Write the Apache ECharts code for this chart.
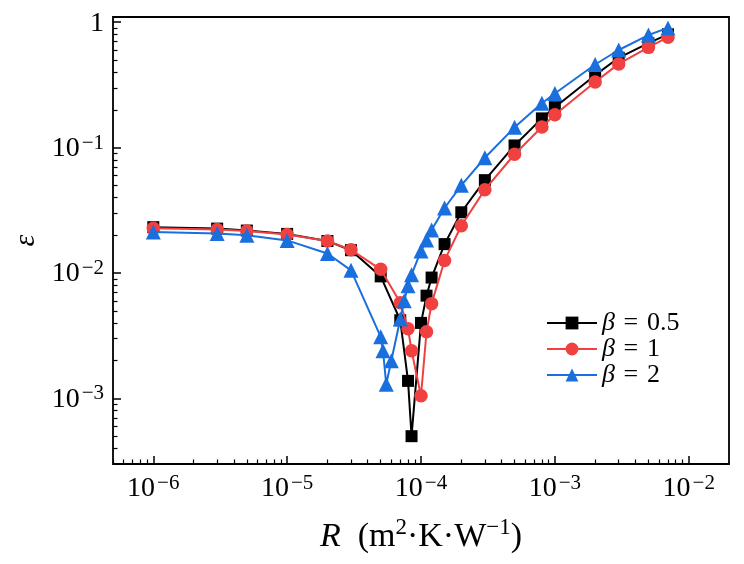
<!DOCTYPE html>
<html>
<head>
<meta charset="utf-8">
<script src="https://cdn.jsdelivr.net/npm/echarts@6/dist/echarts.min.js"></script>
<style>html,body{margin:0;padding:0;background:#fff}#c{width:744px;height:564px}</style>
</head>
<body>
<div id="c"></div>
<script>
// ---- data ----
const seriesNames = ['β = 0.5', 'β = 1', 'β = 2'];
const xBeta05 = [1e-6,3e-6,5e-6,1e-5,2e-5,3e-5,5e-5,7e-5,8e-5,8.5e-5,1e-4,1.1e-4,1.2e-4,1.5e-4,2e-4,3e-4,5e-4,8e-4,1e-3,2e-3,3e-3,5e-3,7e-3];
const yBeta05 = [0.0232,0.0226,0.0218,0.0205,0.0180,0.0152,0.0094,0.0042,0.00138,0.0005,0.0040,0.0066,0.0092,0.0170,0.0305,0.055,0.104,0.171,0.21,0.378,0.52,0.68,0.80];
const xBeta1 = [1e-6,3e-6,5e-6,1e-5,2e-5,3e-5,5e-5,7e-5,8e-5,8.5e-5,1e-4,1.1e-4,1.2e-4,1.5e-4,2e-4,3e-4,5e-4,8e-4,1e-3,2e-3,3e-3,5e-3,7e-3];
const yBeta1 = [0.0227,0.0222,0.0216,0.0203,0.0180,0.0153,0.0107,0.0058,0.0036,0.0024,0.00105,0.0034,0.0057,0.0126,0.0238,0.0462,0.0885,0.146,0.183,0.333,0.465,0.63,0.76];
const xBeta2 = [1e-6,3e-6,5e-6,1e-5,2e-5,3e-5,5e-5,5.2e-5,5.5e-5,6e-5,7e-5,7.5e-5,8e-5,8.5e-5,1e-4,1.1e-4,1.2e-4,1.5e-4,2e-4,3e-4,5e-4,8e-4,1e-3,2e-3,3e-3,5e-3,7e-3];
const yBeta2 = [0.0212,0.0207,0.0200,0.0182,0.0143,0.0105,0.0031,0.0024,0.0013,0.0020,0.0043,0.0060,0.0079,0.0097,0.0150,0.0183,0.0220,0.0330,0.050,0.083,0.145,0.226,0.27,0.46,0.60,0.79,0.90];
const xMajorTicks = [1e-6,1e-5,1e-4,1e-3,1e-2];
const yMajorTicks = [1e-3,1e-2,1e-1,1];
const xMinorTicks = [5e-7,6e-7,7e-7,8e-7,9e-7,2e-6,3e-6,4e-6,5e-6,6e-6,7e-6,8e-6,9e-6,2e-5,3e-5,4e-5,5e-5,6e-5,7e-5,8e-5,9e-5,2e-4,3e-4,4e-4,5e-4,6e-4,7e-4,8e-4,9e-4,2e-3,3e-3,4e-3,5e-3,6e-3,7e-3,8e-3,9e-3];
const yMinorTicks = [4e-4,5e-4,6e-4,7e-4,8e-4,9e-4,2e-3,3e-3,4e-3,5e-3,6e-3,7e-3,8e-3,9e-3,2e-2,3e-2,4e-2,5e-2,6e-2,7e-2,8e-2,9e-2,0.2,0.3,0.4,0.5,0.6,0.7,0.8,0.9];
const xRange = [5e-7, 2e-2];
const yRange = [3e-4, 1.1];

const FONT = '"Liberation Serif", "DejaVu Serif", serif';
const colors = ['#000000', '#f14040', '#1a6fdf'];
const symbols = ['rect', 'circle', 'triangle'];
const symSizes = [12, 13.5, 15];

function pair(xs, ys) { return xs.map((x, i) => [x, ys[i]]); }
const xsAll = [xBeta05, xBeta1, xBeta2];
const ysAll = [yBeta05, yBeta1, yBeta2];
const lg = v => Math.log10(v);

function powLabel(v) {
  const e = Math.round(Math.log10(v));
  if (e === 0) return '{b|1}';
  return '{b|10}{s|' + (e < 0 ? '−' + (-e) : e) + '}';
}
const labelRich = {
  b: { fontFamily: FONT, fontSize: 28, color: '#000', verticalAlign: 'bottom', lineHeight: 30 },
  s: { fontFamily: FONT, fontSize: 21, color: '#000', verticalAlign: 'top', lineHeight: 30, padding: [0, 0, 0, 2] }
};

const gridBox = { left: 113, right: 15, top: 17, bottom: 100 };

// main log axes: carry the series and the labels
function mainAxis(isX, range, ticks) {
  return {
    type: 'log', logBase: 10, min: range[0], max: range[1], gridIndex: 0,
    position: isX ? 'bottom' : 'left',
    axisLine: { show: false, onZero: false },
    splitLine: { show: false },
    axisTick: { show: false },
    axisLabel: { show: true, customValues: ticks, formatter: powLabel, rich: labelRich, margin: 9, color: '#000' }
  };
}
// helper axes (log10 space, in overlaid grids) that only draw tick marks
function tickAxis(isX, range, ticks, len, w, gi) {
  return {
    type: 'value', min: lg(range[0]), max: lg(range[1]), gridIndex: gi,
    position: isX ? 'bottom' : 'left',
    axisLine: { show: false, onZero: false },
    splitLine: { show: false },
    axisTick: { show: true, inside: true, length: len, lineStyle: { color: '#000', width: w }, customValues: ticks.map(lg) },
    axisLabel: { show: false }
  };
}

const xMain = mainAxis(true, xRange, xMajorTicks);
xMain.name = '{i|R}{n|  (m}{s|2}{n|·K·W}{s|−1}{n|)}';
xMain.nameLocation = 'middle';
xMain.nameGap = 52;
xMain.nameTextStyle = {
  rich: {
    i: { fontFamily: FONT, fontSize: 34, fontStyle: 'italic', color: '#000', verticalAlign: 'bottom', lineHeight: 38 },
    n: { fontFamily: FONT, fontSize: 34, color: '#000', verticalAlign: 'bottom', lineHeight: 38 },
    s: { fontFamily: FONT, fontSize: 23, color: '#000', verticalAlign: 'top', lineHeight: 38 }
  }
};
const yMain = mainAxis(false, yRange, yMajorTicks);
yMain.name = 'ε';
yMain.nameLocation = 'middle';
yMain.nameGap = 57;
yMain.nameTextStyle = { fontFamily: FONT, fontSize: 30, fontStyle: 'italic', color: '#000' };

const series = seriesNames.map((name, k) => ({
  name: name,
  type: 'line',
  xAxisIndex: 0, yAxisIndex: 0,
  data: pair(xsAll[k], ysAll[k]),
  symbol: symbols[k],
  symbolSize: symSizes[k],
  showSymbol: true,
  lineStyle: { color: colors[k], width: 2 },
  itemStyle: { color: colors[k], borderWidth: 0 },
  emphasis: { disabled: true },
  z: 2 + k,
  animation: false
}));

const chart = echarts.init(document.getElementById('c'), null, { renderer: 'canvas' });
chart.setOption({
  animation: false,
  backgroundColor: '#fff',
  grid: [
    Object.assign({ show: true, borderColor: '#000', borderWidth: 1.8, backgroundColor: 'transparent' }, gridBox),
    Object.assign({ show: false }, gridBox),
    Object.assign({ show: false }, gridBox)
  ],
  xAxis: [
    xMain,
    tickAxis(true, xRange, xMajorTicks, 8, 1.5, 1),
    tickAxis(true, xRange, xMinorTicks, 4.5, 1.2, 2)
  ],
  yAxis: [
    yMain,
    tickAxis(false, yRange, yMajorTicks, 8, 1.5, 1),
    tickAxis(false, yRange, yMinorTicks, 4.5, 1.2, 2)
  ],
  legend: {
    orient: 'vertical', left: 541, top: 305,
    itemWidth: 50, itemHeight: 16, itemGap: 0,
    data: seriesNames,
    formatter: function (n) { return '{g|β}{t|\u2004=\u2004' + n.slice(4) + '}'; },
    textStyle: {
      color: '#000',
      rich: {
        g: { fontFamily: FONT, fontSize: 26, fontStyle: 'italic', color: '#000', lineHeight: 24 },
        t: { fontFamily: FONT, fontSize: 26, color: '#000', lineHeight: 24 }
      }
    }
  },
  series: series
});
</script>
</body>
</html>
